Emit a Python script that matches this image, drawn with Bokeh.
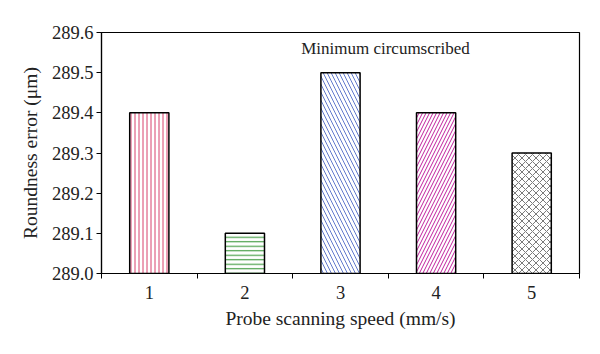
from bokeh.plotting import figure
from bokeh.models import ColumnDataSource, FixedTicker, Range1d, Label, NumeralTickFormatter
from bokeh.embed import file_html
from bokeh.resources import INLINE

speeds = ["1", "2", "3", "4", "5"]
xpos = [1, 2, 3, 4, 5]
errors = [289.4, 289.1, 289.5, 289.4, 289.3]
colors = ["#d8406c", "#4aa04a", "#3a58c0", "#c0209c", "#404040"]
patterns = ["vertical_line", "horizontal_line", "left_diagonal_line", "right_diagonal_line", "diagonal_cross"]
y_ticks = [289.0, 289.1, 289.2, 289.3, 289.4, 289.5, 289.6]
base = 289.0

FONT = "'Liberation Serif', 'DejaVu Serif', serif"

p = figure(width=600, height=354, output_backend="svg", toolbar_location=None,
           x_range=Range1d(0.5, 5.5), y_range=Range1d(289.0, 289.6),
           min_border_left=101, min_border_right=21, min_border_top=32, min_border_bottom=81)
p.background_fill_color = "white"
p.border_fill_color = "white"
p.outline_line_color = "black"
p.outline_line_width = 1.2
p.xgrid.visible = False
p.ygrid.visible = False

src = ColumnDataSource(dict(x=xpos, top=errors, bottom=[base] * 5, c=colors, h=patterns,
                            s=[4, 4.5, 8, 7, 7], w=[1.0, 1.2, 0.8, 1.0, 0.7]))
p.vbar(x="x", top="top", bottom="bottom", width=0.41, source=src,
       fill_color="white", line_color="black", line_width=1.5,
       hatch_pattern="h", hatch_color="c", hatch_scale="s", hatch_weight="w")

p.xaxis.ticker = FixedTicker(ticks=xpos, minor_ticks=[x + 0.5 for x in [0] + xpos])
p.xaxis.major_label_overrides = {x: s for x, s in zip(xpos, speeds)}
p.xaxis.major_tick_out = 0
p.xaxis.major_tick_in = 0
p.xaxis.minor_tick_out = 5
p.xaxis.minor_tick_in = 0
p.xaxis.axis_line_color = "black"
p.xaxis.axis_line_width = 1.2
p.xaxis.major_label_standoff = 7
p.xaxis.axis_label = "Probe scanning speed (mm/s)"
p.xaxis.axis_label_standoff = 6

p.yaxis.ticker = FixedTicker(ticks=y_ticks)
p.yaxis.formatter = NumeralTickFormatter(format="0.0")
p.yaxis.major_tick_out = 5
p.yaxis.major_tick_in = 0
p.yaxis.minor_tick_out = 0
p.yaxis.minor_tick_in = 0
p.yaxis.axis_line_width = 1.2
p.yaxis.major_label_standoff = 3
p.yaxis.axis_label = "Roundness error (μm)"
p.yaxis.axis_label_standoff = 8

for ax in (p.xaxis, p.yaxis):
    ax.major_label_text_font = FONT
    ax.major_label_text_font_size = "18.5px"
    ax.major_label_text_color = "#222222"
    ax.axis_label_text_font = FONT
    ax.axis_label_text_font_size = "19.5px"
    ax.axis_label_text_font_style = "normal"
    ax.axis_label_text_color = "#222222"

p.add_layout(Label(x=3.47, y=289.56, text="Minimum circumscribed", text_align="center",
                   text_baseline="middle", text_font=FONT, text_font_size="17px",
                   text_color="#222222"))

open("out.html", "w").write(file_html(p, INLINE))
